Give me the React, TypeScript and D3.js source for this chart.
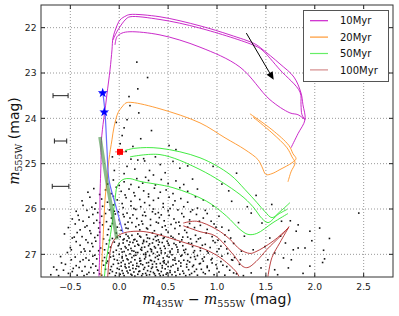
import React from 'react';
import * as d3 from 'd3';

type P = [number, number];

// ---------- data ----------
const xTicks = [-0.5, 0, 0.5, 1, 1.5, 2, 2.5];
const yTicks = [22, 23, 24, 25, 26, 27];
const ageLabels = ['10Myr', '20Myr', '50Myr', '100Myr'];
const ageColors = ['#c414c4', '#ff9326', '#2ee82e', '#b32d2d'];
const legendColors = ['#cc22cc', '#ff9933', '#66ee66', '#d48c8c'];

const iso10: P[][] = [
  [[-0.207,27.49],[-0.197,26.67],[-0.197,25.79],[-0.186,24.91],[-0.186,24.6],[-0.166,24.14],[-0.145,23.81],[-0.125,23.46],[-0.094,22.93],[-0.074,22.49],[-0.064,22.23],[-0.033,22.01],[0.008,21.83],[0.069,21.74],[0.11,21.71],[0.417,21.76],[0.826,21.96],[1.133,22.16],[1.389,22.36],[1.46,22.47],[1.644,22.8],[1.787,23.09],[1.859,23.44],[1.879,23.7],[1.9,24.03],[1.828,24.34],[1.757,24.65]],
  [[-0.064,22.27],[-0.013,22.05],[0.069,21.81],[0.11,21.76],[0.417,21.82],[0.826,22.01],[1.389,22.4],[1.46,22.49],[1.644,22.93],[1.849,23.42],[1.859,23.7],[1.869,23.92],[1.9,24.03]],
  [[-0.043,22.38],[-0.023,22.2],[0.028,22.12],[0.11,22.09],[0.417,22.16],[0.826,22.43],[1.235,22.87],[1.542,23.59],[1.746,23.88],[1.828,23.92],[1.9,24.03]],
];
const iso20: P[][] = [
  [[-0.186,27.49],[-0.166,26.67],[-0.145,25.79],[-0.125,25.35],[-0.105,24.91],[-0.074,24.47],[-0.053,24.19],[-0.013,23.88],[0.028,23.75],[0.069,23.66],[0.131,23.65],[0.417,23.79],[0.826,24.1],[1.082,24.43],[1.286,24.69],[1.419,24.91],[1.46,25.07],[1.501,25.24],[1.562,25.22],[1.644,25.13],[1.767,24.98],[1.808,24.89],[1.777,24.78],[1.736,24.6],[1.562,24.25],[1.337,23.9]],
  [[1.368,23.97],[1.562,24.32],[1.716,24.65],[1.767,24.85],[1.798,24.98],[1.757,25.18],[1.726,25.4]],
];
const iso50: P[][] = [
  [[-0.151,27.49],[-0.135,27.16],[-0.105,26.78],[-0.074,26.34],[-0.043,25.79],[-0.023,25.51],[0.008,25.4],[0.049,25.34],[0.11,25.33],[0.212,25.39],[0.55,25.53],[0.895,25.83],[1.099,26.16],[1.235,26.45],[1.317,26.56],[1.406,26.54],[1.573,26.3],[1.726,26.1]],
  [[0.059,24.71],[0.161,24.66],[0.417,24.66],[0.826,24.87],[1.133,25.24],[1.286,25.57],[1.409,25.86],[1.491,26.06],[1.562,26.19],[1.644,26.06],[1.746,25.86]],
  [[0.11,24.85],[0.417,24.8],[0.826,25.13],[1.235,25.68],[1.368,25.95],[1.46,26.21],[1.522,26.3],[1.624,26.12],[1.716,26.01]],
];
const iso100: P[][] = [
  [[-0.118,27.5],[-0.094,26.96],[-0.064,26.72],[-0.013,26.59],[0.059,26.52],[0.182,26.49],[0.315,26.52],[0.724,26.78],[0.877,26.89],[1.031,27.07],[1.194,27.38],[1.225,27.49]],
  [[0.655,26.31],[0.792,26.27],[0.997,26.45],[1.133,26.67],[1.235,26.89],[1.337,26.98],[1.399,26.94],[1.573,26.71],[1.726,26.42],[1.736,26.39],[1.644,26.74],[1.562,27.07],[1.521,27.49]],
  [[0.655,26.37],[0.826,26.5],[0.979,26.59],[1.164,27.0],[1.266,27.27],[1.317,27.29],[1.399,27.16],[1.512,26.89],[1.644,26.61],[1.726,26.43]],
];
const isochrones = [iso10, iso20, iso50, iso100];

const fitLine: P[] = [[-0.166,23.46],[-0.145,23.88],[-0.125,24.69],[-0.105,25.35],[-0.033,25.95],[0.039,26.52]];
const fitBand: P[] = [[-0.197,24.41],[-0.13,25.35],[-0.023,26.67]];

const blueStarX = [-0.169, -0.153];
const blueStarY = [23.44, 23.86];
const blueStarErr = [0.035, 0.035];
const redSquare: P = [0.008, 24.74];
const redSquareErr = 0.05;

const refErrX = [-0.6, -0.6, -0.6];
const refErrY = [23.5, 24.5, 25.5];
const refErrW = [0.077, 0.063, 0.085];

const arrowStart: P = [1.30, 22.12];
const arrowEnd: P = [1.58, 23.15];

const photometry: P[] = [
  // upper sparse
  [0.18,22.76],[0.29,23.1],[0.19,23.35],[0.10,23.52],[0.11,23.72],[0.20,23.88],[0.08,24.03],[-0.03,24.09],[0.05,24.21],[0.33,24.27],[0.01,24.56],[0.14,24.62],[0.51,24.6],[0.58,24.69],[0.07,24.73],[0.25,24.89],[0.19,24.92],[0.26,24.94],[0.31,25.15],[0.16,25.12],[0.08,25.06],[-0.05,25.15],[0.42,25.02],[0.37,24.85],[0.47,25.2],[0.62,25.1],[0.55,24.95],[0.7,25.05],[0.03,24.38],[0.22,24.45],[0.12,24.9],[0.35,25.25],[0.05,25.22],[0.27,25.3],[-0.07,24.85],[0.96,25.06],[1.2,25.21],
  // 25.3-25.5
  [-0.12,25.45],[-0.06,25.36],[0.0,25.48],[0.05,25.4],[0.12,25.46],[0.18,25.33],[0.24,25.43],[0.3,25.37],[0.37,25.47],[0.43,25.35],[0.5,25.44],[0.58,25.38],[0.66,25.46],[0.75,25.34],
  // 25.5-25.7
  [-0.32,25.63],[-0.26,25.55],[-0.2,25.68],[-0.14,25.58],[-0.08,25.66],[-0.03,25.52],[0.02,25.61],[0.06,25.69],[0.1,25.56],[0.15,25.64],[0.2,25.52],[0.25,25.6],[0.3,25.67],[0.36,25.54],[0.42,25.63],[0.48,25.58],[0.55,25.66],[0.62,25.53],[0.7,25.61],[0.8,25.56],
  // 25.7-25.9
  [-0.38,25.82],[-0.3,25.74],[-0.24,25.87],[-0.18,25.78],[-0.12,25.85],[-0.06,25.72],[-0.02,25.8],[0.03,25.88],[0.07,25.75],[0.12,25.83],[0.16,25.71],[0.21,25.79],[0.26,25.86],[0.3,25.73],[0.35,25.81],[0.4,25.76],[0.45,25.88],[0.51,25.74],[0.57,25.82],[0.63,25.77],[0.7,25.85],[0.78,25.73],[0.86,25.8],
  // 25.9-26.1
  [-0.44,26.05],[-0.37,25.92],[-0.33,26.03],[-0.28,25.96],[-0.22,26.08],[-0.17,25.94],[-0.1,26.02],[-0.06,25.91],[-0.01,26.06],[0.04,25.97],[0.08,26.09],[0.12,25.93],[0.17,26.01],[0.22,25.95],[0.26,26.07],[0.31,25.92],[0.35,26.0],[0.4,26.08],[0.45,25.96],[0.5,26.04],[0.55,25.91],[0.6,26.02],[0.66,25.95],[0.73,26.06],[0.8,25.98],[0.88,26.03],[0.96,25.93],
  // 26.1-26.3
  [-0.48,26.22],[-0.42,26.14],[-0.37,26.27],[-0.31,26.18],[-0.27,26.12],[-0.23,26.25],[-0.18,26.16],[-0.13,26.28],[-0.08,26.2],[-0.04,26.11],[0.0,26.24],[0.05,26.17],[0.09,26.29],[0.14,26.13],[0.18,26.21],[0.23,26.27],[0.27,26.15],[0.32,26.23],[0.37,26.11],[0.41,26.19],[0.46,26.26],[0.51,26.14],[0.56,26.22],[0.61,26.29],[0.66,26.17],[0.72,26.24],[0.79,26.12],[0.86,26.2],[0.94,26.27],[1.02,26.16],
  // 26.3-26.5
  [-0.52,26.41],[-0.45,26.33],[-0.4,26.46],[-0.33,26.37],[-0.3,26.48],[-0.26,26.31],[-0.21,26.42],[-0.17,26.35],[-0.11,26.45],[-0.07,26.32],[-0.02,26.4],[0.02,26.47],[0.06,26.34],[0.09,26.43],[0.13,26.3],[0.17,26.39],[0.21,26.46],[0.24,26.33],[0.28,26.42],[0.32,26.36],[0.36,26.48],[0.4,26.31],[0.44,26.4],[0.48,26.46],[0.53,26.34],[0.57,26.43],[0.62,26.37],[0.67,26.47],[0.72,26.32],[0.77,26.41],[0.83,26.36],[0.9,26.45],[0.97,26.33],[1.05,26.4],[1.12,26.47],
  // 26.5-26.7
  [-0.56,26.55],[-0.48,26.64],[-0.43,26.52],[-0.38,26.61],[-0.34,26.68],[-0.29,26.54],[-0.25,26.63],[-0.2,26.51],[-0.16,26.66],[-0.12,26.57],[-0.07,26.65],[-0.03,26.53],[0.01,26.61],[0.04,26.68],[0.07,26.56],[0.1,26.64],[0.13,26.58],[0.16,26.67],[0.19,26.55],[0.22,26.62],[0.25,26.69],[0.28,26.57],[0.31,26.65],[0.34,26.53],[0.37,26.61],[0.4,26.68],[0.43,26.56],[0.46,26.63],[0.5,26.51],[0.53,26.6],[0.57,26.67],[0.61,26.55],[0.65,26.62],[0.69,26.52],[0.73,26.66],[0.78,26.58],[0.83,26.64],[0.89,26.53],[0.95,26.61],[1.01,26.69],[1.08,26.57],[1.14,26.64],
  // 26.7-26.9
  [-0.5,26.85],[-0.44,26.72],[-0.4,26.8],[-0.36,26.88],[-0.32,26.74],[-0.27,26.83],[-0.24,26.71],[-0.19,26.86],[-0.13,26.77],[-0.09,26.84],[-0.05,26.73],[-0.01,26.81],[0.02,26.88],[0.04,26.75],[0.06,26.83],[0.08,26.7],[0.1,26.79],[0.12,26.87],[0.14,26.74],[0.16,26.82],[0.18,26.71],[0.2,26.8],[0.22,26.89],[0.24,26.76],[0.26,26.84],[0.28,26.72],[0.3,26.81],[0.32,26.88],[0.34,26.75],[0.36,26.83],[0.38,26.7],[0.4,26.79],[0.42,26.87],[0.44,26.74],[0.46,26.82],[0.49,26.71],[0.51,26.8],[0.54,26.88],[0.56,26.76],[0.59,26.84],[0.62,26.73],[0.65,26.81],[0.68,26.89],[0.71,26.75],[0.75,26.83],[0.79,26.72],[0.83,26.86],[0.88,26.78],[0.93,26.85],[0.98,26.74],[1.04,26.82],[1.1,26.88],[1.17,26.76],
  // 26.9-27.1
  [-0.6,27.05],[-0.53,26.96],[-0.49,26.9],[-0.45,27.06],[-0.39,26.95],[-0.34,27.08],[-0.3,26.93],[-0.25,27.02],[-0.21,26.92],[-0.15,27.07],[-0.11,26.97],[-0.06,27.04],[-0.03,26.91],[0.0,27.0],[0.03,27.08],[0.05,26.94],[0.07,27.03],[0.09,26.9],[0.11,26.99],[0.13,27.07],[0.15,26.93],[0.17,27.02],[0.19,26.96],[0.21,27.09],[0.23,26.91],[0.25,27.0],[0.27,27.06],[0.29,26.94],[0.31,27.03],[0.33,26.9],[0.35,26.98],[0.37,27.07],[0.39,26.95],[0.41,27.02],[0.43,26.92],[0.45,27.08],[0.47,26.97],[0.49,27.04],[0.52,26.93],[0.54,27.01],[0.57,27.08],[0.6,26.95],[0.63,27.04],[0.66,26.91],[0.7,27.0],[0.73,27.07],[0.76,26.96],[0.8,27.03],[0.83,26.92],[0.87,27.06],[0.91,26.97],[0.95,27.09],[1.0,26.94],[1.05,27.04],[1.11,26.98],[1.18,27.07],[1.25,26.93],
  // 27.1-27.3
  [-0.55,27.22],[-0.49,27.12],[-0.44,27.25],[-0.4,27.16],[-0.35,27.27],[-0.31,27.13],[-0.27,27.21],[-0.23,27.1],[-0.16,27.24],[-0.12,27.15],[-0.08,27.27],[-0.05,27.11],[-0.01,27.2],[0.02,27.26],[0.04,27.14],[0.06,27.22],[0.08,27.1],[0.1,27.28],[0.12,27.17],[0.14,27.24],[0.16,27.12],[0.18,27.2],[0.2,27.27],[0.22,27.14],[0.24,27.23],[0.26,27.1],[0.28,27.19],[0.3,27.26],[0.32,27.13],[0.34,27.22],[0.36,27.16],[0.38,27.28],[0.4,27.11],[0.42,27.2],[0.44,27.25],[0.46,27.14],[0.48,27.22],[0.5,27.17],[0.53,27.27],[0.55,27.12],[0.58,27.21],[0.61,27.15],[0.63,27.26],[0.66,27.13],[0.69,27.22],[0.72,27.17],[0.75,27.27],[0.78,27.11],[0.82,27.21],[0.86,27.15],[0.9,27.26],[0.94,27.12],[0.99,27.23],[1.04,27.16],[1.1,27.27],[1.16,27.13],[1.23,27.22],
  // 27.3-27.5
  [-0.7,27.45],[-0.67,27.28],[-0.62,27.47],[-0.57,27.35],[-0.64,27.34],[-0.59,27.19],[-0.52,27.42],[-0.47,27.31],[-0.43,27.46],[-0.38,27.37],[-0.33,27.44],[-0.29,27.29],[-0.26,27.41],[-0.22,27.35],[-0.18,27.46],[-0.14,27.33],[-0.1,27.42],[-0.07,27.38],[-0.04,27.47],[-0.02,27.31],[0.01,27.44],[0.03,27.36],[0.05,27.47],[0.07,27.3],[0.09,27.41],[0.11,27.35],[0.13,27.46],[0.15,27.39],[0.17,27.32],[0.19,27.44],[0.21,27.37],[0.23,27.47],[0.25,27.33],[0.27,27.42],[0.29,27.36],[0.31,27.45],[0.33,27.31],[0.35,27.4],[0.37,27.47],[0.39,27.34],[0.41,27.43],[0.43,27.38],[0.45,27.46],[0.47,27.32],[0.49,27.41],[0.52,27.36],[0.54,27.45],[0.57,27.39],[0.6,27.31],[0.62,27.44],[0.65,27.37],[0.68,27.47],[0.71,27.34],[0.74,27.42],[0.77,27.38],[0.8,27.46],[0.84,27.33],[0.88,27.43],[0.92,27.36],[0.97,27.45],[1.02,27.39],[1.08,27.46],[1.13,27.35],[1.2,27.43],[1.27,27.47],
  // dense core, second pass
  [-0.48,27.38],[-0.41,27.29],[-0.36,27.47],[-0.31,27.4],[-0.24,27.26],[-0.2,27.43],[-0.13,27.19],[-0.09,27.34],[-0.06,27.22],[-0.03,27.41],[0.0,27.33],[0.02,27.18],[0.04,27.42],[0.06,27.27],[0.08,27.37],[0.1,27.2],[0.12,27.44],[0.14,27.31],[0.16,27.48],[0.18,27.26],[0.2,27.38],[0.22,27.21],[0.24,27.43],[0.26,27.29],[0.28,27.46],[0.3,27.18],[0.32,27.38],[0.34,27.28],[0.36,27.43],[0.38,27.21],[0.4,27.36],[0.42,27.47],[0.44,27.3],[0.46,27.19],[0.48,27.44],[0.5,27.27],[0.52,27.4],[0.55,27.24],[0.58,27.47],[0.6,27.35],[0.63,27.19],[0.66,27.42],[0.69,27.28],[0.72,27.45],[0.76,27.24],[0.79,27.33],[0.83,27.2],[0.86,27.4],[0.9,27.29],[0.95,27.19],[1.0,27.31],[1.06,27.24],[0.03,27.05],[0.09,27.12],[0.15,27.03],[0.21,27.15],[0.27,27.01],[0.33,27.14],[0.39,27.04],[0.45,27.16],[0.51,27.06],[0.57,27.13],[0.64,27.02],[0.7,27.14],[0.77,27.05],[0.85,27.1],[-0.02,27.13],[-0.09,27.06],[-0.17,27.14],[-0.27,27.04],[-0.37,27.12],
  [-0.46,26.62],[-0.35,26.93],[-0.28,26.76],[-0.22,26.58],[-0.15,26.9],[-0.1,26.69],[-0.06,26.95],[-0.02,26.62],[0.0,26.77],[0.03,26.95],[0.05,26.66],[0.07,26.86],[0.09,26.6],[0.11,26.73],[0.13,26.92],[0.15,26.68],[0.17,26.96],[0.19,26.78],[0.21,26.6],[0.23,26.85],[0.25,26.72],[0.27,26.97],[0.29,26.64],[0.31,26.77],[0.33,26.94],[0.35,26.67],[0.37,26.86],[0.39,26.59],[0.41,26.73],[0.43,26.97],[0.45,26.65],[0.47,26.87],[0.5,26.76],[0.52,26.96],[0.55,26.63],[0.58,26.79],[0.6,26.9],[0.64,26.68],[0.67,26.96],[0.7,26.62],[0.74,26.76],[0.77,26.92],[0.81,26.66],[0.85,26.8],[0.9,26.93],[0.96,26.7],[1.02,26.88],[1.08,26.72],
  [-0.41,26.24],[-0.35,26.4],[-0.25,26.0],[-0.2,26.3],[-0.14,26.1],[-0.09,26.38],[-0.05,26.05],[0.01,26.32],[0.04,26.12],[0.07,26.42],[0.11,26.2],[0.15,25.99],[0.2,26.35],[0.24,26.14],[0.29,26.44],[0.34,26.06],[0.38,26.29],[0.43,26.13],[0.47,26.37],[0.52,25.99],[0.58,26.3],[0.64,26.1],[0.7,26.4],[0.75,26.02],[0.82,26.27],[0.9,26.1],[0.99,26.4],
  // right sparse
  [1.15,25.83],[1.35,26.09],[1.46,26.31],[1.66,26.27],[1.75,26.26],[1.83,26.35],[1.81,26.49],[1.95,26.49],[2.05,26.42],[2.15,26.65],[2.1,27.1],[2.09,26.91],[1.9,26.86],[1.83,26.86],[1.78,26.9],[1.76,27.12],[1.68,27.08],[1.59,26.97],[1.59,27.34],[1.73,27.3],[1.95,27.26],[2.45,26.09],[1.54,26.64],[1.65,26.6],[1.52,27.12],[1.37,26.9],[1.49,26.83],[1.35,27.41],[1.17,27.41],[1.24,27.12],[1.15,27.12],[1.28,26.6],[1.22,26.3],[1.31,25.95],[1.12,25.6],[1.4,25.7],[1.05,25.45],[1.56,25.9],[1.45,27.3],[1.62,27.45],[1.88,27.42],[2.08,27.18],[1.97,26.7],[1.7,26.75],
];

// ---------- layout ----------
const W = 399, H = 316;
const L = 41, T = 5, R = 393, B = 277;

const x = d3.scaleLinear().domain([-0.8, 2.8]).range([L, R]);
const y = d3.scaleLinear().domain([21.5, 27.5]).range([T, B]);

const line = d3.line<P>().x(d => x(d[0])).y(d => y(d[1])).curve(d3.curveCatmullRom.alpha(0.5));
const straight = d3.line<P>().x(d => x(d[0])).y(d => y(d[1]));

const fmtX = (v: number) => (v < 0 ? '\u2212' : '') + Math.abs(v).toFixed(1);

const SANS = 'DejaVu Sans, sans-serif';
const SERIF = 'DejaVu Serif, serif';

export default function App() {
  const star = d3.symbol().type(d3.symbolStar).size(30)() as string;
  const ax0 = x(arrowStart[0]), ay0 = y(arrowStart[1]);
  const ax1 = x(arrowEnd[0]), ay1 = y(arrowEnd[1]);
  const ang = Math.atan2(ay1 - ay0, ax1 - ax0);
  const hl = 8, hw = 3.5;
  const bx = ax1 - hl * Math.cos(ang), by = ay1 - hl * Math.sin(ang);
  const head = `M${ax1},${ay1}L${bx + hw * Math.sin(ang)},${by - hw * Math.cos(ang)}L${bx - hw * Math.sin(ang)},${by + hw * Math.cos(ang)}Z`;

  return (
    <svg width={W} height={H} style={{ position: 'absolute', left: 0, top: 0, background: '#fff' }}>
      <defs>
        <clipPath id="plot"><rect x={L} y={T} width={R - L} height={B - T} /></clipPath>
      </defs>
      <rect x={0} y={0} width={W} height={H} fill="#fff" />
      <g stroke="#999" strokeWidth={1} strokeDasharray="1,2">
        {xTicks.map(t => <line key={'gx' + t} x1={x(t)} x2={x(t)} y1={T} y2={B} />)}
        {yTicks.map(t => <line key={'gy' + t} x1={L} x2={R} y1={y(t)} y2={y(t)} />)}
      </g>
      <g clipPath="url(#plot)">
        <g fill="#111">
          {photometry.map((p, i) => <rect key={i} x={x(p[0]) - 0.8} y={y(p[1]) - 0.8} width={1.6} height={1.6} />)}
        </g>
        {isochrones.map((iso, k) => (
          <g key={k} fill="none" stroke={ageColors[k]} strokeWidth={1} strokeOpacity={0.9}>
            {iso.map((seg, j) => <path key={j} d={line(seg) as string} />)}
          </g>
        ))}
        <path d={straight(fitBand) as string} fill="none" stroke="#3f8f3f" strokeOpacity={0.6} strokeWidth={3.5} />
        <path d={line(fitLine) as string} fill="none" stroke="#6a6aff" strokeWidth={1.2} />
        <g stroke="#222" strokeWidth={1}>
          {refErrX.map((vx, i) => (
            <g key={i}>
              <line x1={x(vx - refErrW[i])} x2={x(vx + refErrW[i])} y1={y(refErrY[i])} y2={y(refErrY[i])} />
              <line x1={x(vx - refErrW[i])} x2={x(vx - refErrW[i])} y1={y(refErrY[i]) - 2.5} y2={y(refErrY[i]) + 2.5} />
              <line x1={x(vx + refErrW[i])} x2={x(vx + refErrW[i])} y1={y(refErrY[i]) - 2.5} y2={y(refErrY[i]) + 2.5} />
            </g>
          ))}
        </g>
        {blueStarX.map((vx, i) => (
          <g key={i}>
            <line x1={x(vx - blueStarErr[i])} x2={x(vx + blueStarErr[i])} y1={y(blueStarY[i])} y2={y(blueStarY[i])} stroke="#0000ff" strokeWidth={1} />
            <path d={star} transform={`translate(${x(vx)},${y(blueStarY[i])})`} fill="#0000ff" />
          </g>
        ))}
        <line x1={x(redSquare[0] - redSquareErr)} x2={x(redSquare[0] + redSquareErr)} y1={y(redSquare[1])} y2={y(redSquare[1])} stroke="#ff5555" strokeWidth={1} />
        <rect x={x(redSquare[0]) - 3} y={y(redSquare[1]) - 3} width={6} height={6} fill="#ff0000" />
        <line x1={ax0} y1={ay0} x2={bx} y2={by} stroke="#000" strokeWidth={1} />
        <path d={head} fill="#000" />
      </g>
      <g stroke="#222" strokeWidth={1}>
        {xTicks.map(t => <g key={'tx' + t}>
          <line x1={x(t)} x2={x(t)} y1={B} y2={B - 4} />
          <line x1={x(t)} x2={x(t)} y1={T} y2={T + 4} />
        </g>)}
        {yTicks.map(t => <g key={'ty' + t}>
          <line x1={L} x2={L + 4} y1={y(t)} y2={y(t)} />
          <line x1={R} x2={R - 4} y1={y(t)} y2={y(t)} />
        </g>)}
      </g>
      <rect x={L} y={T} width={R - L} height={B - T} fill="none" stroke="#333" strokeWidth={1} />
      <g fontFamily={SANS} fontSize={9.2} fill="#222">
        {xTicks.map(t => <text key={'lx' + t} x={x(t)} y={289.5} textAnchor="middle">{fmtX(t)}</text>)}
        {yTicks.map(t => <text key={'ly' + t} x={36.5} y={y(t) + 3.3} textAnchor="end">{t}</text>)}
      </g>
      <text x={(L + R) / 2} y={304} textAnchor="middle" fontSize={14} fontFamily={SANS} fill="#111">
        <tspan fontFamily={SERIF} fontStyle="italic">m</tspan>
        <tspan fontFamily={SERIF} fontSize={9.5} dy={3}>435W</tspan>
        <tspan dy={-3}> {'\u2212'} </tspan>
        <tspan fontFamily={SERIF} fontStyle="italic">m</tspan>
        <tspan fontFamily={SERIF} fontSize={9.5} dy={3}>555W</tspan>
        <tspan dy={-3}> (mag)</tspan>
      </text>
      <text transform={`translate(19,${(T + B) / 2}) rotate(-90)`} textAnchor="middle" fontSize={14} fontFamily={SANS} fill="#111">
        <tspan fontFamily={SERIF} fontStyle="italic">m</tspan>
        <tspan fontFamily={SERIF} fontSize={9.5} dy={3}>555W</tspan>
        <tspan dy={-3}> (mag)</tspan>
      </text>
      <g>
        <rect x={303.5} y={10.5} width={85} height={71} fill="#fff" stroke="#555" strokeWidth={1} />
        {ageLabels.map((lab, i) => (
          <g key={lab}>
            <line x1={310} x2={328} y1={20.7 + i * 16.4} y2={20.7 + i * 16.4} stroke={legendColors[i]} strokeWidth={1.2} />
            <text x={340} y={20.7 + i * 16.4 + 3.6} fontFamily={SANS} fontSize={10} fill="#111">{lab}</text>
          </g>
        ))}
      </g>
    </svg>
  );
}
